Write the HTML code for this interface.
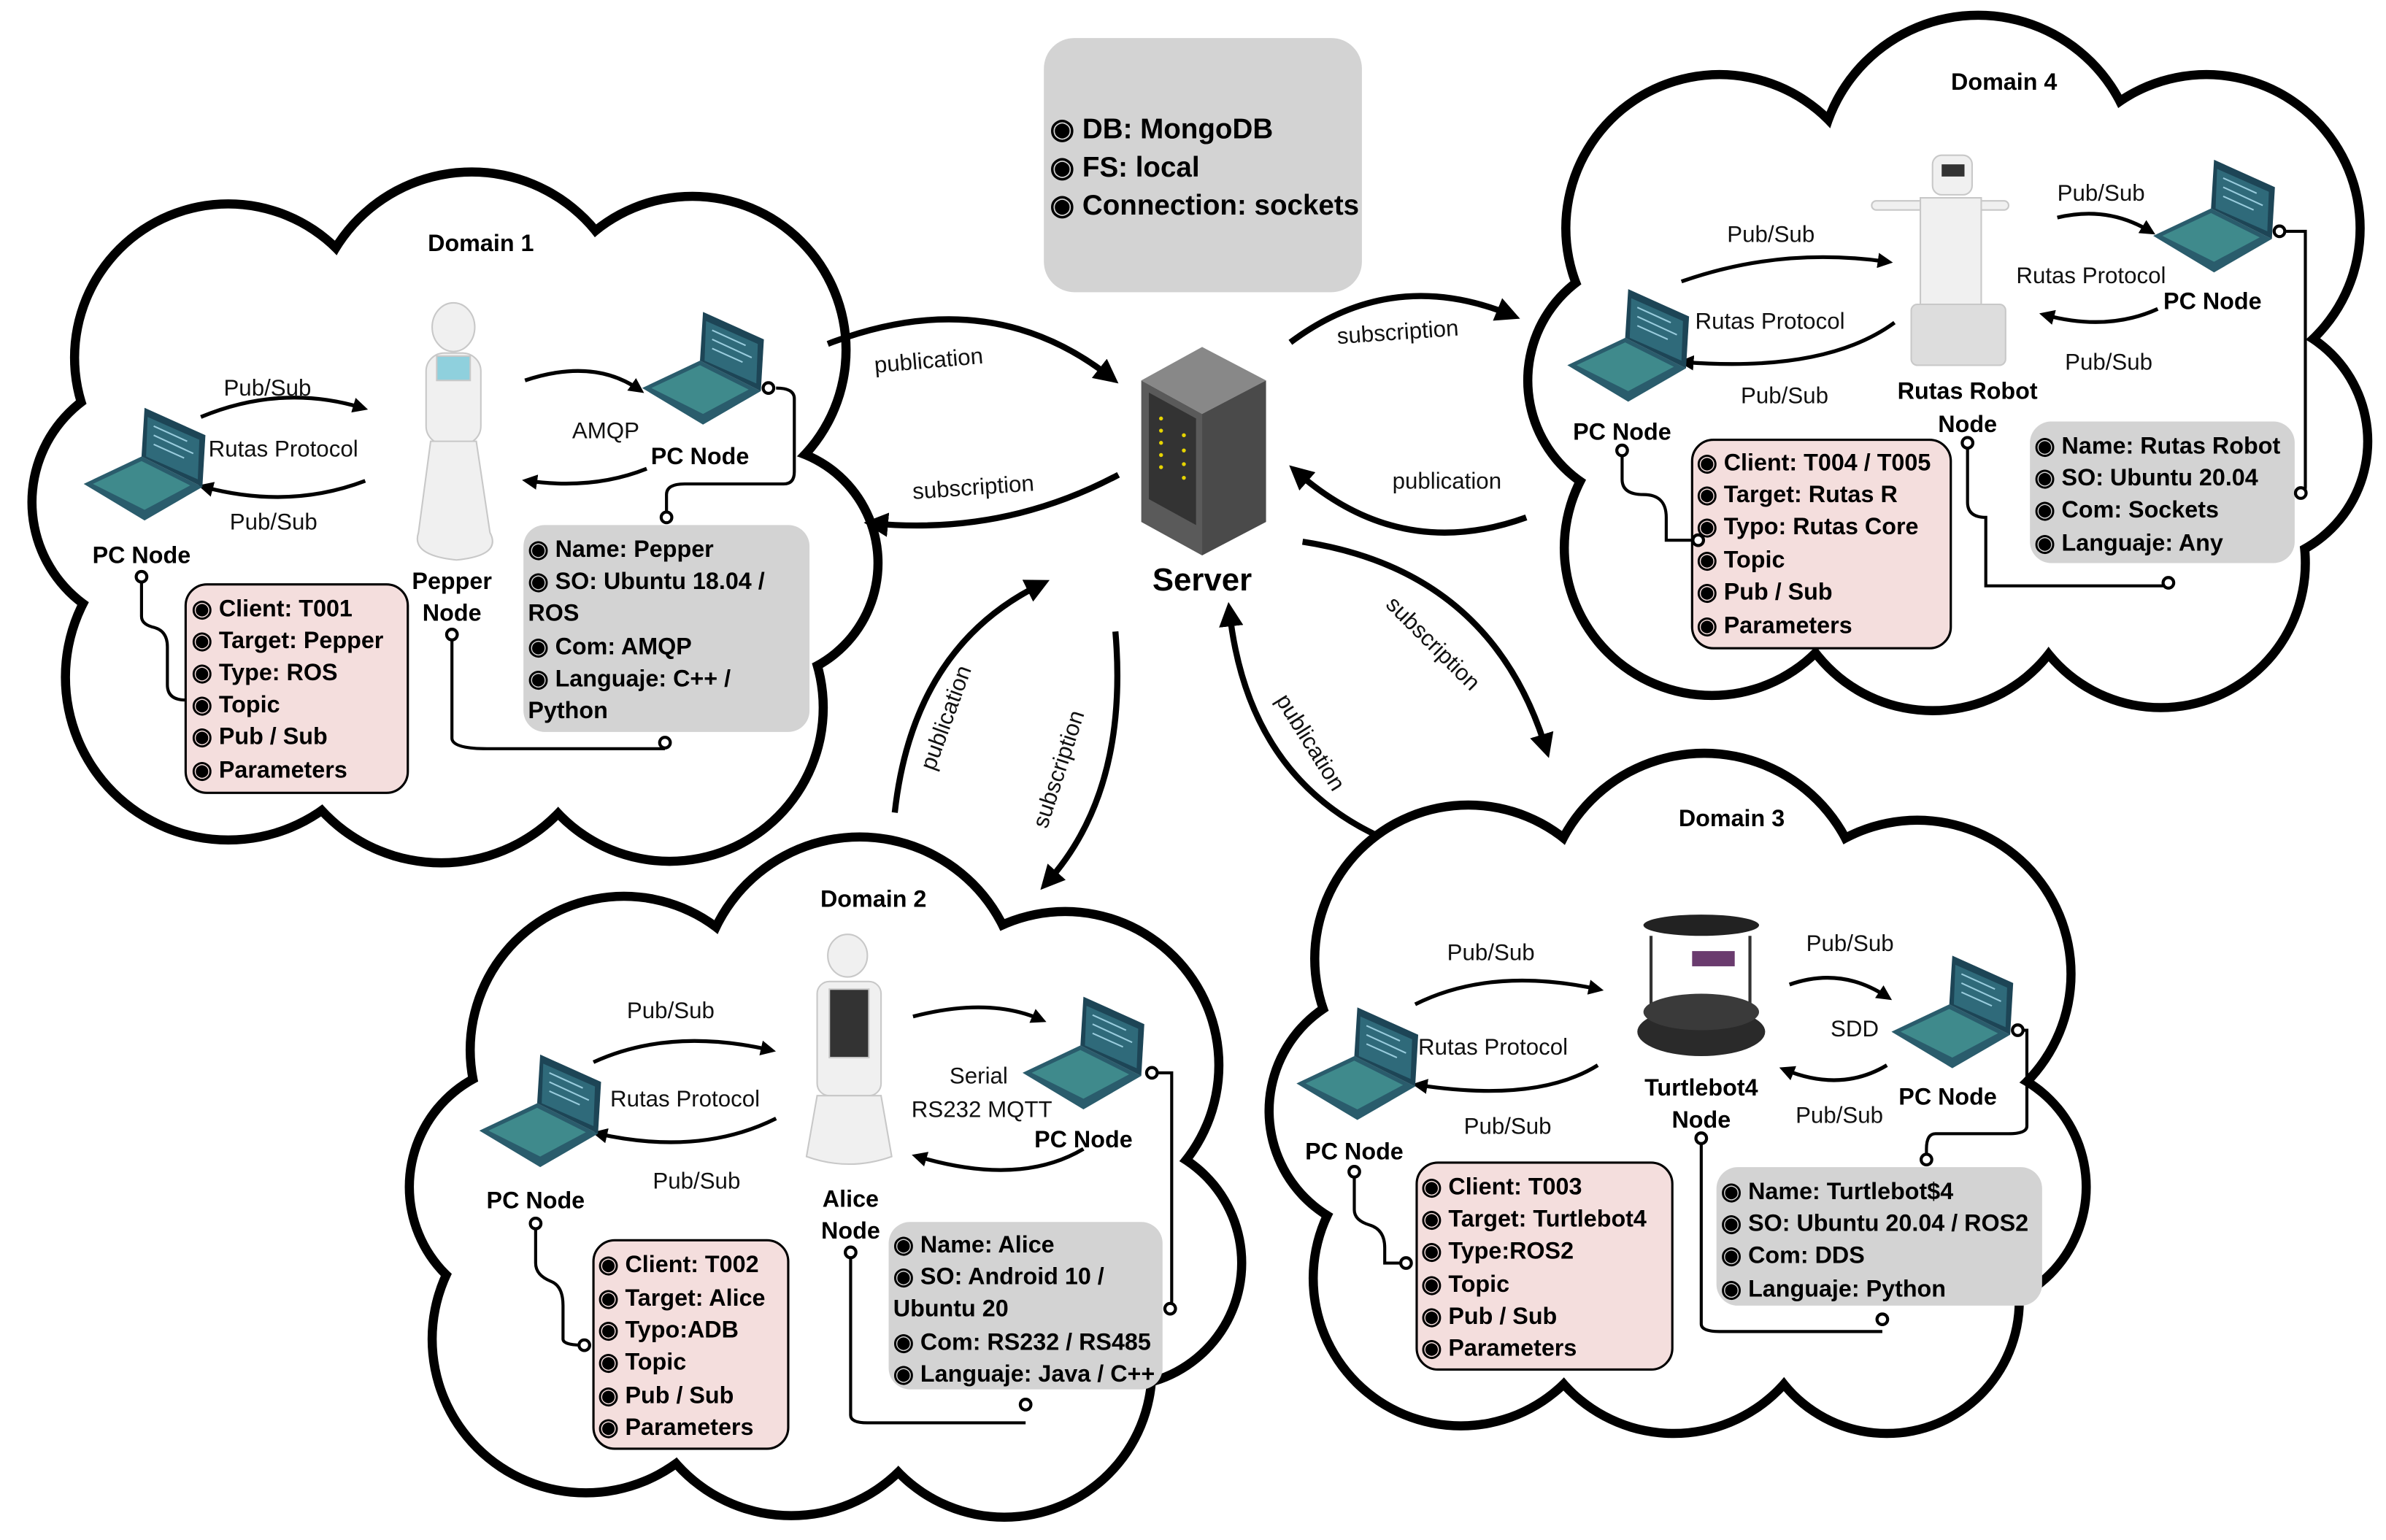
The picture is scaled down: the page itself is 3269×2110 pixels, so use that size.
<!DOCTYPE html>
<html><head><meta charset="utf-8"><style>
html,body{margin:0;padding:0;background:#fff;}
svg{display:block;}
text{font-family:"Liberation Sans",sans-serif;}
.b{font-weight:bold;font-size:15.5px;fill:#000;}
.n{font-size:15px;fill:#111;}
.t{font-weight:bold;font-size:18.5px;}
</style></head><body>
<svg width="3269" height="2110" viewBox="0 0 1568 1012" preserveAspectRatio="none" xmlns="http://www.w3.org/2000/svg">
<defs>
<marker id="ah" viewBox="0 0 10 10" refX="6" refY="5" markerWidth="4" markerHeight="4" orient="auto"><path d="M0,0 L10,5 L0,10 z" fill="#000"/></marker>
<g id="lap">
<polygon points="0,50 38,32 78,52 40,74" fill="#2a5c6c"/>
<polygon points="6,50 38,35 70,51 40,67" fill="#3f8a8c"/>
<polygon points="38,32 40,0 80,18 78,52" fill="#1d4556"/>
<polygon points="42,6 76,21 75,47 41,32" fill="#2f6a7a"/>
<line x1="46" y1="12" x2="68" y2="22" stroke="#9cd" stroke-width="1"/>
<line x1="46" y1="18" x2="72" y2="30" stroke="#9cd" stroke-width="1"/>
<line x1="46" y1="24" x2="66" y2="33" stroke="#9cd" stroke-width="1"/>
</g>
</defs>
<rect width="1568" height="1012" fill="#fff"/>

<g fill="#000">
<circle cx="150" cy="235" r="104"/><circle cx="310" cy="218" r="108"/><circle cx="455" cy="230" r="104"/><circle cx="500" cy="370" r="80"/><circle cx="440" cy="465" r="104"/><circle cx="290" cy="460" r="110"/><circle cx="150" cy="445" r="110"/><circle cx="104" cy="330" r="86"/><circle cx="300" cy="330" r="150"/>
<circle cx="410" cy="690" r="104"/><circle cx="565" cy="655" r="108"/><circle cx="700" cy="700" r="104"/><circle cx="735" cy="830" r="84"/><circle cx="660" cy="900" r="100"/><circle cx="520" cy="895" r="104"/><circle cx="385" cy="880" r="104"/><circle cx="350" cy="780" r="84"/><circle cx="550" cy="790" r="170"/>
<circle cx="965" cy="630" r="104"/><circle cx="1120" cy="600" r="108"/><circle cx="1260" cy="640" r="104"/><circle cx="1290" cy="780" r="84"/><circle cx="1240" cy="855" r="90"/><circle cx="1100" cy="845" r="100"/><circle cx="960" cy="840" r="100"/><circle cx="915" cy="730" r="84"/><circle cx="1100" cy="740" r="160"/>
<circle cx="1130" cy="150" r="104"/><circle cx="1300" cy="115" r="108"/><circle cx="1450" cy="150" r="104"/><circle cx="1475" cy="290" r="84"/><circle cx="1420" cy="370" r="98"/><circle cx="1270" cy="370" r="100"/><circle cx="1125" cy="360" r="100"/><circle cx="1085" cy="250" r="84"/><circle cx="1280" cy="250" r="160"/>
</g>
<g fill="#fff">
<circle cx="150" cy="235" r="98"/><circle cx="310" cy="218" r="102"/><circle cx="455" cy="230" r="98"/><circle cx="500" cy="370" r="74"/><circle cx="440" cy="465" r="98"/><circle cx="290" cy="460" r="104"/><circle cx="150" cy="445" r="104"/><circle cx="104" cy="330" r="80"/><circle cx="300" cy="330" r="150"/>
<circle cx="410" cy="690" r="98"/><circle cx="565" cy="655" r="102"/><circle cx="700" cy="700" r="98"/><circle cx="735" cy="830" r="78"/><circle cx="660" cy="900" r="94"/><circle cx="520" cy="895" r="98"/><circle cx="385" cy="880" r="98"/><circle cx="350" cy="780" r="78"/><circle cx="550" cy="790" r="170"/>
<circle cx="965" cy="630" r="98"/><circle cx="1120" cy="600" r="102"/><circle cx="1260" cy="640" r="98"/><circle cx="1290" cy="780" r="78"/><circle cx="1240" cy="855" r="84"/><circle cx="1100" cy="845" r="94"/><circle cx="960" cy="840" r="94"/><circle cx="915" cy="730" r="78"/><circle cx="1100" cy="740" r="160"/>
<circle cx="1130" cy="150" r="98"/><circle cx="1300" cy="115" r="102"/><circle cx="1450" cy="150" r="98"/><circle cx="1475" cy="290" r="78"/><circle cx="1420" cy="370" r="92"/><circle cx="1270" cy="370" r="94"/><circle cx="1125" cy="360" r="94"/><circle cx="1085" cy="250" r="78"/><circle cx="1280" cy="250" r="160"/>
</g>

<rect x="686" y="25" width="209" height="167" rx="20" fill="#d3d3d3"/>
<text class="t" x="690" y="91">◉ DB: MongoDB</text>
<text class="t" x="690" y="116">◉ FS: local</text>
<text class="t" x="690" y="141">◉ Connection: sockets</text>

<polygon points="750,250 790,228 832,250 790,272" fill="#888"/>
<polygon points="750,250 790,272 790,365 750,343" fill="#5a5a5a"/>
<polygon points="790,272 832,250 832,343 790,365" fill="#4a4a4a"/>
<polygon points="755,258 786,275 786,345 755,328" fill="#333"/>
<g fill="#e6d400"><circle cx="763" cy="275" r="1.3"/><circle cx="763" cy="283" r="1.3"/><circle cx="763" cy="291" r="1.3"/><circle cx="763" cy="299" r="1.3"/><circle cx="763" cy="307" r="1.3"/><circle cx="778" cy="286" r="1.3"/><circle cx="778" cy="296" r="1.3"/><circle cx="778" cy="305" r="1.3"/><circle cx="778" cy="314" r="1.3"/></g>
<text x="790" y="388" text-anchor="middle" style="font-weight:bold;font-size:21px">Server</text>

<g fill="none" stroke="#000" stroke-width="4" marker-end="url(#ah)">
<path d="M544,226 Q650,185 730,248"/>
<path d="M735,312 Q660,352 574,344"/>
<path d="M848,225 Q915,175 993,207"/>
<path d="M1003,340 Q920,370 852,310"/>
<path d="M856,356 Q980,375 1016,492"/>
<path d="M907,550 Q820,510 808,402"/>
<path d="M588,534 Q600,425 684,384"/>
<path d="M733,415 Q742,520 688,580"/>
</g>
<text class="n" font-size="16" x="575" y="245" transform="rotate(-5 575 245)">publication</text>
<text class="n" x="600" y="328" transform="rotate(-4 600 328)">subscription</text>
<text class="n" x="879" y="226" transform="rotate(-4 879 226)">subscription</text>
<text class="n" x="915" y="321">publication</text>
<text class="n" x="910" y="398" transform="rotate(45 910 398)">subscription</text>
<text class="n" x="838" y="460" transform="rotate(58 838 460)">publication</text>
<text class="n" x="614" y="507" transform="rotate(-70 614 507)">publication</text>
<text class="n" x="688" y="545" transform="rotate(-72 688 545)">subscription</text>

<g fill="none" stroke="#000" stroke-width="2.5" marker-end="url(#ah)">
<path d="M132,274 Q185,252 238,268"/><path d="M240,316 Q190,335 134,320"/>
<path d="M345,250 Q390,235 420,256"/><path d="M425,308 Q390,322 347,316"/>
<path d="M1105,185 Q1170,162 1240,172"/><path d="M1245,212 Q1200,245 1107,238"/>
<path d="M1352,143 Q1385,135 1413,152"/><path d="M1418,203 Q1385,218 1344,207"/>
<path d="M390,698 Q440,675 506,690"/><path d="M510,735 Q460,760 393,745"/>
<path d="M600,668 Q650,655 684,670"/><path d="M712,755 Q670,780 603,760"/>
<path d="M930,660 Q980,635 1050,650"/><path d="M1050,700 Q1010,725 932,713"/>
<path d="M1176,647 Q1210,635 1240,655"/><path d="M1240,700 Q1210,718 1173,703"/>
</g>

<use href="#lap" x="55" y="268"/>
<use href="#lap" x="422" y="205"/>
<use href="#lap" x="1030" y="190"/>
<use href="#lap" x="1415" y="105"/>
<use href="#lap" x="315" y="693"/>
<use href="#lap" x="672" y="655"/>
<use href="#lap" x="852" y="662"/>
<use href="#lap" x="1243" y="628"/>

<g fill="#f0f0f0" stroke="#c8c8c8" stroke-width="1">
<ellipse cx="298" cy="215" rx="14" ry="16"/>
<rect x="280" y="232" width="36" height="60" rx="12"/>
<rect x="287" y="234" width="22" height="16" fill="#8fd0dd"/>
<path d="M283,290 L313,290 L322,350 Q330,365 300,368 Q270,365 275,350 Z"/>
<ellipse cx="557" cy="628" rx="13" ry="14"/>
<rect x="537" y="645" width="42" height="75" rx="8"/>
<rect x="545" y="650" width="26" height="45" fill="#333"/>
<path d="M537,720 L579,720 L586,760 Q558,770 530,760 Z"/>
<rect x="1270" y="102" width="26" height="26" rx="6"/>
<rect x="1230" y="132" width="90" height="6" rx="3"/>
<rect x="1262" y="130" width="40" height="70"/>
<rect x="1256" y="200" width="62" height="40" rx="4" fill="#ddd"/>
</g>
<rect x="1276" y="108" width="15" height="8" fill="#333"/>
<g>
<line x1="1085" y1="615" x2="1085" y2="660" stroke="#333" stroke-width="2"/>
<line x1="1150" y1="615" x2="1150" y2="660" stroke="#333" stroke-width="2"/>
<ellipse cx="1118" cy="608" rx="38" ry="7" fill="#222"/>
<rect x="1112" y="625" width="28" height="10" fill="#6a3b6e"/>
<ellipse cx="1118" cy="678" rx="42" ry="16" fill="#2a2a2a"/>
<ellipse cx="1118" cy="665" rx="38" ry="12" fill="#3a3a3a"/>
</g>

<text class="b" x="316" y="165" text-anchor="middle">Domain 1</text>
<text class="b" x="1317" y="59" text-anchor="middle">Domain 4</text>
<text class="b" x="574" y="596" text-anchor="middle">Domain 2</text>
<text class="b" x="1138" y="543" text-anchor="middle">Domain 3</text>

<text class="n" x="147" y="260">Pub/Sub</text>
<text class="n" x="137" y="300">Rutas Protocol</text>
<text class="n" x="151" y="348">Pub/Sub</text>
<text class="n" x="376" y="288">AMQP</text>
<text class="b" x="93" y="370" text-anchor="middle">PC Node</text>
<text class="b" x="460" y="305" text-anchor="middle">PC Node</text>
<text class="b" x="297" y="387" text-anchor="middle">Pepper</text>
<text class="b" x="297" y="408" text-anchor="middle">Node</text>

<text class="n" x="1135" y="159">Pub/Sub</text>
<text class="n" x="1114" y="216">Rutas Protocol</text>
<text class="n" x="1144" y="265">Pub/Sub</text>
<text class="n" x="1352" y="132">Pub/Sub</text>
<text class="n" x="1325" y="186">Rutas Protocol</text>
<text class="n" x="1357" y="243">Pub/Sub</text>
<text class="b" x="1454" y="203" text-anchor="middle">PC Node</text>
<text class="b" x="1066" y="289" text-anchor="middle">PC Node</text>
<text class="b" x="1293" y="262" text-anchor="middle">Rutas Robot</text>
<text class="b" x="1293" y="284" text-anchor="middle">Node</text>

<text class="n" x="412" y="669">Pub/Sub</text>
<text class="n" x="401" y="727">Rutas Protocol</text>
<text class="n" x="429" y="781">Pub/Sub</text>
<text class="n" x="624" y="712">Serial</text>
<text class="n" x="599" y="734">RS232 MQTT</text>
<text class="b" x="352" y="794" text-anchor="middle">PC Node</text>
<text class="b" x="712" y="754" text-anchor="middle">PC Node</text>
<text class="b" x="559" y="793" text-anchor="middle">Alice</text>
<text class="b" x="559" y="814" text-anchor="middle">Node</text>

<text class="n" x="951" y="631">Pub/Sub</text>
<text class="n" x="932" y="693">Rutas Protocol</text>
<text class="n" x="962" y="745">Pub/Sub</text>
<text class="n" x="1187" y="625">Pub/Sub</text>
<text class="n" x="1203" y="681">SDD</text>
<text class="n" x="1180" y="738">Pub/Sub</text>
<text class="b" x="890" y="762" text-anchor="middle">PC Node</text>
<text class="b" x="1280" y="726" text-anchor="middle">PC Node</text>
<text class="b" x="1118" y="720" text-anchor="middle">Turtlebot4</text>
<text class="b" x="1118" y="741" text-anchor="middle">Node</text>

<rect x="122" y="384" width="146" height="137" rx="14" fill="#f4dedd" stroke="#000" stroke-width="1.5"/>
<g class="b"><text x="126" y="405">◉ Client: T001</text><text x="126" y="426">◉ Target: Pepper</text><text x="126" y="447">◉ Type: ROS</text><text x="126" y="468">◉ Topic</text><text x="126" y="489">◉ Pub / Sub</text><text x="126" y="511">◉ Parameters</text></g>
<rect x="344" y="345" width="188" height="136" rx="14" fill="#d3d3d3"/>
<g class="b"><text x="347" y="366">◉ Name: Pepper</text><text x="347" y="387">◉ SO: Ubuntu 18.04 /</text><text x="347" y="408">ROS</text><text x="347" y="430">◉ Com: AMQP</text><text x="347" y="451">◉ Languaje: C++ /</text><text x="347" y="472">Python</text></g>

<rect x="1112" y="289" width="170" height="137" rx="14" fill="#f4dedd" stroke="#000" stroke-width="1.5"/>
<g class="b"><text x="1115" y="309">◉ Client: T004 / T005</text><text x="1115" y="330">◉ Target: Rutas R</text><text x="1115" y="351">◉ Typo: Rutas Core</text><text x="1115" y="373">◉ Topic</text><text x="1115" y="394">◉ Pub / Sub</text><text x="1115" y="416">◉ Parameters</text></g>
<rect x="1334" y="277" width="174" height="93" rx="14" fill="#d3d3d3"/>
<g class="b"><text x="1337" y="298">◉ Name: Rutas Robot</text><text x="1337" y="319">◉ SO: Ubuntu 20.04</text><text x="1337" y="340">◉ Com: Sockets</text><text x="1337" y="362">◉ Languaje: Any</text></g>

<rect x="390" y="815" width="128" height="137" rx="14" fill="#f4dedd" stroke="#000" stroke-width="1.5"/>
<g class="b"><text x="393" y="836">◉ Client: T002</text><text x="393" y="858">◉ Target: Alice</text><text x="393" y="879">◉ Typo:ADB</text><text x="393" y="900">◉ Topic</text><text x="393" y="922">◉ Pub / Sub</text><text x="393" y="943">◉ Parameters</text></g>
<rect x="584" y="803" width="180" height="110" rx="14" fill="#d3d3d3"/>
<g class="b"><text x="587" y="823">◉ Name: Alice</text><text x="587" y="844">◉ SO: Android 10 /</text><text x="587" y="865">Ubuntu 20</text><text x="587" y="887">◉ Com: RS232 / RS485</text><text x="587" y="908">◉ Languaje: Java / C++</text></g>

<rect x="931" y="764" width="168" height="136" rx="14" fill="#f4dedd" stroke="#000" stroke-width="1.5"/>
<g class="b"><text x="934" y="785">◉ Client: T003</text><text x="934" y="806">◉ Target: Turtlebot4</text><text x="934" y="827">◉ Type:ROS2</text><text x="934" y="849">◉ Topic</text><text x="934" y="870">◉ Pub / Sub</text><text x="934" y="891">◉ Parameters</text></g>
<rect x="1128" y="767" width="214" height="91" rx="14" fill="#d3d3d3"/>
<g class="b"><text x="1131" y="788">◉ Name: Turtlebot$4</text><text x="1131" y="809">◉ SO: Ubuntu 20.04 / ROS2</text><text x="1131" y="830">◉ Com: DDS</text><text x="1131" y="852">◉ Languaje: Python</text></g>

<g fill="none" stroke="#000" stroke-width="2">
<path d="M93,382 V405 Q93,410 100,412 Q110,414 110,425 V450 Q110,460 122,460"/>
<path d="M297,420 V485 Q297,492 320,492 H437"/>
<path d="M438,340 V325 Q438,318 450,318 H515 Q522,318 522,310 V262 Q522,255 510,255"/>
<path d="M1066,298 V315 Q1066,325 1080,325 Q1095,325 1095,340 V355 H1112"/>
<path d="M1293,293 V330 Q1293,340 1305,340 V385 H1425"/>
<path d="M1502,152 H1515 V320 Q1515,324 1512,324"/>
<path d="M352,806 V830 Q352,838 362,842 Q370,845 370,858 V880 Q370,884 384,884"/>
<path d="M559,825 V930 Q559,935 570,935 H674"/>
<path d="M757,705 H770 V855 Q770,860 765,860"/>
<path d="M890,772 V795 Q890,802 900,805 Q910,808 910,820 V830 H924"/>
<path d="M1118,750 V870 Q1118,875 1130,875 H1237"/>
<path d="M1326,677 H1332 V740 Q1332,745 1320,745 H1272 Q1266,745 1266,755 V762"/>
</g>
<g fill="#fff" stroke="#000" stroke-width="2">
<circle cx="93" cy="379" r="3.5"/><circle cx="297" cy="417" r="3.5"/><circle cx="437" cy="488" r="3.5"/><circle cx="438" cy="340" r="3.5"/><circle cx="505" cy="255" r="3.5"/>
<circle cx="1066" cy="296" r="3.5"/><circle cx="1293" cy="291" r="3.5"/><circle cx="1425" cy="383" r="3.5"/><circle cx="1498" cy="152" r="3.5"/><circle cx="1512" cy="324" r="3.5"/><circle cx="1116" cy="355" r="3.5"/>
<circle cx="352" cy="804" r="3.5"/><circle cx="384" cy="884" r="3.5"/><circle cx="559" cy="823" r="3.5"/><circle cx="674" cy="923" r="3.5"/><circle cx="757" cy="705" r="3.5"/><circle cx="769" cy="860" r="3.5"/>
<circle cx="890" cy="770" r="3.5"/><circle cx="924" cy="830" r="3.5"/><circle cx="1118" cy="748" r="3.5"/><circle cx="1237" cy="867" r="3.5"/><circle cx="1326" cy="677" r="3.5"/><circle cx="1266" cy="762" r="3.5"/>
</g>
</svg>
</body></html>
